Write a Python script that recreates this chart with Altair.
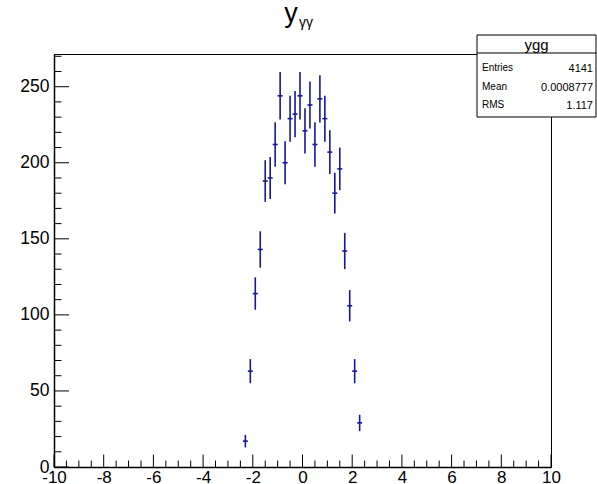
import altair as alt
import pandas as pd

# Histogram of the diphoton rapidity: bin centres and entries per bin
bin_centers = [-2.3, -2.1, -1.9, -1.7, -1.5, -1.3, -1.1, -0.9, -0.7, -0.5, -0.3, -0.1,
               0.1, 0.3, 0.5, 0.7, 0.9, 1.1, 1.3, 1.5, 1.7, 1.9, 2.1, 2.3]
counts = [17, 63, 114, 143, 188, 190, 212, 244, 200, 229, 232, 244,
          221, 238, 212, 242, 229, 207, 180, 196, 142, 106, 63, 29]
bin_width = 0.2

# Axis ticks
x_major = list(range(-10, 11, 2))
x_minor = [v / 2 for v in range(-20, 21) if v % 4 != 0]
y_major = [0, 50, 100, 150, 200, 250]
y_minor = [v for v in range(0, 271, 10) if v % 50 != 0]

# Statistics box
stats_title = "ygg"
stats_labels = ["Entries", "Mean", "RMS"]
stats_values = ["4141", "0.0008777", "1.117"]

W, H = 497, 413
FONT = "Liberation Sans"
COLOR = "#16169e"

df = pd.DataFrame({"x": bin_centers, "n": counts})
df["err"] = df["n"] ** 0.5
df["lo"] = df["n"] - df["err"]
df["hi"] = df["n"] + df["err"]
df["x0"] = df["x"] - bin_width / 2
df["x1"] = df["x"] + bin_width / 2

xs = alt.Scale(domain=[-10, 10], nice=False, zero=False)
ys = alt.Scale(domain=[0, 271.5], nice=False, zero=False)

# plain hyphen-minus in tick labels
label_expr = "'' + datum.value"

x_axis = alt.Axis(values=x_major, labelExpr=label_expr, ticks=False, grid=False,
                  domainColor="black", domainWidth=1.5, labelFont=FONT, labelFontSize=17,
                  labelColor="black", labelPadding=2, labelFlush=False, title=None)
y_axis = alt.Axis(values=y_major, labelExpr=label_expr, ticks=False, grid=False,
                  domainColor="black", domainWidth=1.5, labelFont=FONT, labelFontSize=17.5,
                  labelColor="black", labelPadding=5, labelFlush=False, title=None)


def X(field):
    return alt.X(field, scale=xs, axis=x_axis, title=None)


def Y(field):
    return alt.Y(field, scale=ys, axis=y_axis, title=None)


base = alt.Chart(df)

vbars = base.mark_rule(color=COLOR, strokeWidth=1.6).encode(
    x=X("x:Q"), y=Y("lo:Q"), y2="hi:Q")
hbars = base.mark_rule(color=COLOR, strokeWidth=1.6).encode(
    x=X("x0:Q"), x2="x1:Q", y=Y("n:Q"))


def xticks(vals, length):
    return alt.Chart(pd.DataFrame({"v": vals})).mark_rule(color="black", strokeWidth=1).encode(
        x=X("v:Q"), y=alt.value(H), y2=alt.value(H - length))


def yticks(vals, length):
    return alt.Chart(pd.DataFrame({"v": vals})).mark_rule(color="black", strokeWidth=1).encode(
        y=Y("v:Q"), x=alt.value(0), x2=alt.value(length))


tick_layers = [xticks(x_major, 12.5), xticks(x_minor, 6.5),
               yticks(y_major, 15), yticks(y_minor, 7.5)]

# Title y_{γγ}
one = pd.DataFrame({"k": [0]})
title_main = alt.Chart(one).mark_text(
    text="y", font=FONT, fontSize=27, align="center", baseline="alphabetic", color="black"
).encode(x=alt.value(237), y=alt.value(-32))
title_sub = alt.Chart(one).mark_text(
    text="γγ", font=FONT, fontSize=14, align="left", baseline="alphabetic", color="black"
).encode(x=alt.value(245), y=alt.value(-27))

# Statistics box
bx0, bx1, by0, by1 = 423, 542, -19, 63
box = alt.Chart(one).mark_rect(fill="white", stroke="black", strokeWidth=1).encode(
    x=alt.value(bx0), x2=alt.value(bx1), y=alt.value(by0), y2=alt.value(by1))
divider = alt.Chart(one).mark_rule(color="black", strokeWidth=1).encode(
    x=alt.value(bx0), x2=alt.value(bx1), y=alt.value(-1))
box_title = alt.Chart(one).mark_text(
    text=stats_title, font=FONT, fontSize=15, align="center", baseline="middle", color="black"
).encode(x=alt.value((bx0 + bx1) / 2), y=alt.value(-9))

stat_layers = []
for i, (lab, val) in enumerate(zip(stats_labels, stats_values)):
    yy = 14 + i * 18.5
    stat_layers.append(alt.Chart(one).mark_text(
        text=lab, font=FONT, fontSize=10, align="left", baseline="middle", color="black"
    ).encode(x=alt.value(bx0 + 5), y=alt.value(yy)))
    stat_layers.append(alt.Chart(one).mark_text(
        text=val, font=FONT, fontSize=11, align="right", baseline="middle", color="black"
    ).encode(x=alt.value(bx1 - 3), y=alt.value(yy + 1)))

chart = alt.layer(
    vbars, hbars, *tick_layers, title_main, title_sub, box, divider, box_title, *stat_layers
).properties(
    width=W, height=H,
    padding={"left": 54, "top": 54, "right": 46, "bottom": 17},
    autosize=alt.AutoSizeParams(type="none"),
    background="white",
).configure_view(stroke="black", strokeWidth=1)

chart.save("out.html", embed_options={"renderer": "svg", "actions": False})
